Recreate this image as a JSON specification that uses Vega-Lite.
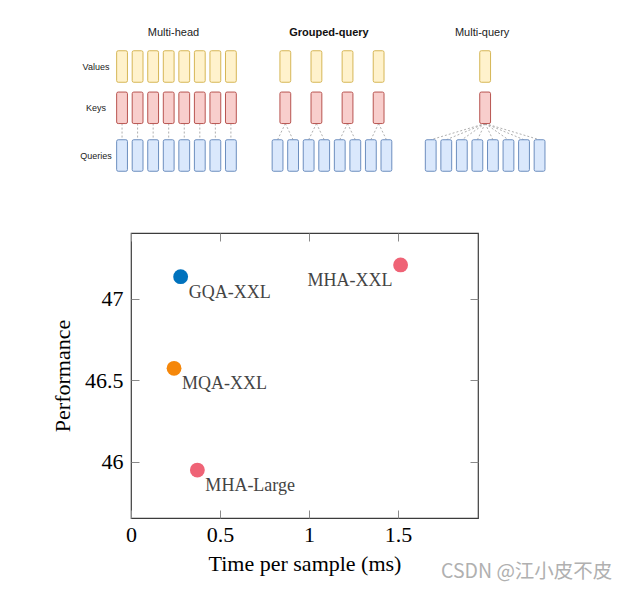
{
  "$schema": "https://vega.github.io/schema/vega-lite/v6.json",
  "background": "white",
  "padding": {"left": 50, "top": 20, "right": 5, "bottom": 5},
  "bounds": "flush",
  "spacing": 43,
  "config": {"font": "Liberation Serif"},
  "datasets": {
    "boxes": [
      {"scheme": "Multi-head", "tier": "Values", "slot": 0},
      {"scheme": "Multi-head", "tier": "Values", "slot": 1},
      {"scheme": "Multi-head", "tier": "Values", "slot": 2},
      {"scheme": "Multi-head", "tier": "Values", "slot": 3},
      {"scheme": "Multi-head", "tier": "Values", "slot": 4},
      {"scheme": "Multi-head", "tier": "Values", "slot": 5},
      {"scheme": "Multi-head", "tier": "Values", "slot": 6},
      {"scheme": "Multi-head", "tier": "Values", "slot": 7},
      {"scheme": "Multi-head", "tier": "Keys", "slot": 0},
      {"scheme": "Multi-head", "tier": "Keys", "slot": 1},
      {"scheme": "Multi-head", "tier": "Keys", "slot": 2},
      {"scheme": "Multi-head", "tier": "Keys", "slot": 3},
      {"scheme": "Multi-head", "tier": "Keys", "slot": 4},
      {"scheme": "Multi-head", "tier": "Keys", "slot": 5},
      {"scheme": "Multi-head", "tier": "Keys", "slot": 6},
      {"scheme": "Multi-head", "tier": "Keys", "slot": 7},
      {"scheme": "Multi-head", "tier": "Queries", "slot": 0},
      {"scheme": "Multi-head", "tier": "Queries", "slot": 1},
      {"scheme": "Multi-head", "tier": "Queries", "slot": 2},
      {"scheme": "Multi-head", "tier": "Queries", "slot": 3},
      {"scheme": "Multi-head", "tier": "Queries", "slot": 4},
      {"scheme": "Multi-head", "tier": "Queries", "slot": 5},
      {"scheme": "Multi-head", "tier": "Queries", "slot": 6},
      {"scheme": "Multi-head", "tier": "Queries", "slot": 7},
      {"scheme": "Grouped-query", "tier": "Values", "slot": 10.5},
      {"scheme": "Grouped-query", "tier": "Values", "slot": 12.5},
      {"scheme": "Grouped-query", "tier": "Values", "slot": 14.5},
      {"scheme": "Grouped-query", "tier": "Values", "slot": 16.5},
      {"scheme": "Grouped-query", "tier": "Keys", "slot": 10.5},
      {"scheme": "Grouped-query", "tier": "Keys", "slot": 12.5},
      {"scheme": "Grouped-query", "tier": "Keys", "slot": 14.5},
      {"scheme": "Grouped-query", "tier": "Keys", "slot": 16.5},
      {"scheme": "Grouped-query", "tier": "Queries", "slot": 10},
      {"scheme": "Grouped-query", "tier": "Queries", "slot": 11},
      {"scheme": "Grouped-query", "tier": "Queries", "slot": 12},
      {"scheme": "Grouped-query", "tier": "Queries", "slot": 13},
      {"scheme": "Grouped-query", "tier": "Queries", "slot": 14},
      {"scheme": "Grouped-query", "tier": "Queries", "slot": 15},
      {"scheme": "Grouped-query", "tier": "Queries", "slot": 16},
      {"scheme": "Grouped-query", "tier": "Queries", "slot": 17},
      {"scheme": "Multi-query", "tier": "Values", "slot": 23.35},
      {"scheme": "Multi-query", "tier": "Keys", "slot": 23.35},
      {"scheme": "Multi-query", "tier": "Queries", "slot": 19.85},
      {"scheme": "Multi-query", "tier": "Queries", "slot": 20.85},
      {"scheme": "Multi-query", "tier": "Queries", "slot": 21.85},
      {"scheme": "Multi-query", "tier": "Queries", "slot": 22.85},
      {"scheme": "Multi-query", "tier": "Queries", "slot": 23.85},
      {"scheme": "Multi-query", "tier": "Queries", "slot": 24.85},
      {"scheme": "Multi-query", "tier": "Queries", "slot": 25.85},
      {"scheme": "Multi-query", "tier": "Queries", "slot": 26.85}
    ],
    "links": [
      {"scheme": "Multi-head", "key_slot": 0, "query_slot": 0},
      {"scheme": "Multi-head", "key_slot": 1, "query_slot": 1},
      {"scheme": "Multi-head", "key_slot": 2, "query_slot": 2},
      {"scheme": "Multi-head", "key_slot": 3, "query_slot": 3},
      {"scheme": "Multi-head", "key_slot": 4, "query_slot": 4},
      {"scheme": "Multi-head", "key_slot": 5, "query_slot": 5},
      {"scheme": "Multi-head", "key_slot": 6, "query_slot": 6},
      {"scheme": "Multi-head", "key_slot": 7, "query_slot": 7},
      {"scheme": "Grouped-query", "key_slot": 10.5, "query_slot": 10},
      {"scheme": "Grouped-query", "key_slot": 10.5, "query_slot": 11},
      {"scheme": "Grouped-query", "key_slot": 12.5, "query_slot": 12},
      {"scheme": "Grouped-query", "key_slot": 12.5, "query_slot": 13},
      {"scheme": "Grouped-query", "key_slot": 14.5, "query_slot": 14},
      {"scheme": "Grouped-query", "key_slot": 14.5, "query_slot": 15},
      {"scheme": "Grouped-query", "key_slot": 16.5, "query_slot": 16},
      {"scheme": "Grouped-query", "key_slot": 16.5, "query_slot": 17},
      {"scheme": "Multi-query", "key_slot": 23.35, "query_slot": 19.85},
      {"scheme": "Multi-query", "key_slot": 23.35, "query_slot": 20.85},
      {"scheme": "Multi-query", "key_slot": 23.35, "query_slot": 21.85},
      {"scheme": "Multi-query", "key_slot": 23.35, "query_slot": 22.85},
      {"scheme": "Multi-query", "key_slot": 23.35, "query_slot": 23.85},
      {"scheme": "Multi-query", "key_slot": 23.35, "query_slot": 24.85},
      {"scheme": "Multi-query", "key_slot": 23.35, "query_slot": 25.85},
      {"scheme": "Multi-query", "key_slot": 23.35, "query_slot": 26.85}
    ],
    "tiers": [
      {"tier": "Values", "level": 0},
      {"tier": "Keys", "level": 1},
      {"tier": "Queries", "level": 2.155}
    ],
    "headers": [
      {"scheme": "Multi-head", "center": 3.5, "highlight": false},
      {"scheme": "Grouped-query", "center": 13.5, "highlight": true},
      {"scheme": "Multi-query", "center": 23.35, "highlight": false}
    ],
    "models": [
      {"model": "GQA-XXL", "attention": "GQA", "time": 0.279, "performance": 47.135},
      {"model": "MHA-XXL", "attention": "MHA", "time": 1.515, "performance": 47.207},
      {"model": "MQA-XXL", "attention": "MQA", "time": 0.242, "performance": 46.573},
      {"model": "MHA-Large", "attention": "MHA", "time": 0.373, "performance": 45.949}
    ],
    "credit": [
      {"text": "CSDN @江小皮不皮"}
    ]
  },
  "vconcat": [
    {
      "width": 430,
      "height": 170,
      "view": {"stroke": null},
      "layer": [
        {
          "data": {"name": "links"},
          "mark": {"type": "rule", "color": "#9a9a9a", "strokeWidth": 0.8, "strokeDash": [2, 2]},
          "encoding": {
            "x": {"field": "key_slot", "type": "quantitative", "scale": {"domain": [0.5756, 28.228], "nice": false, "zero": false}, "axis": null},
            "x2": {"field": "query_slot"},
            "y": {"datum": 1.381, "type": "quantitative", "scale": {"domain": [-1.126, 2.99], "reverse": true, "nice": false, "zero": false}, "axis": null},
            "y2": {"datum": 1.774}
          }
        },
        {
          "data": {"name": "boxes"},
          "transform": [{"lookup": "tier", "from": {"data": {"name": "tiers"}, "key": "tier", "fields": ["level"]}}],
          "mark": {"type": "point", "filled": true, "opacity": 1, "size": 992, "strokeWidth": 1,
            "shape": "M-0.243,-1L0.243,-1Q0.343,-1,0.343,-0.9L0.343,0.9Q0.343,1,0.243,1L-0.243,1Q-0.343,1,-0.343,0.9L-0.343,-0.9Q-0.343,-1,-0.243,-1Z"},
          "encoding": {
            "x": {"field": "slot", "type": "quantitative"},
            "y": {"field": "level", "type": "quantitative"},
            "fill": {"field": "tier", "type": "nominal", "scale": {"domain": ["Values", "Keys", "Queries"], "range": ["#fff2cc", "#f8cecc", "#dae8fc"]}, "legend": null},
            "stroke": {"field": "tier", "type": "nominal", "scale": {"domain": ["Values", "Keys", "Queries"], "range": ["#d6b656", "#b85450", "#6c8ebf"]}, "legend": null}
          }
        },
        {
          "data": {"name": "tiers"},
          "mark": {"type": "text", "font": "Liberation Sans", "fontSize": 9, "color": "#222222", "align": "center", "baseline": "middle"},
          "encoding": {
            "x": {"datum": -1.675, "type": "quantitative"},
            "y": {"field": "level", "type": "quantitative"},
            "text": {"field": "tier"}
          }
        },
        {
          "data": {"name": "headers"},
          "transform": [{"filter": "!datum.highlight"}],
          "mark": {"type": "text", "font": "Liberation Sans", "fontSize": 11, "color": "#222222", "align": "center", "baseline": "middle", "dx": -3},
          "encoding": {
            "x": {"field": "center", "type": "quantitative"},
            "y": {"datum": -0.811, "type": "quantitative"},
            "text": {"field": "scheme"}
          }
        },
        {
          "data": {"name": "headers"},
          "transform": [{"filter": "datum.highlight"}],
          "mark": {"type": "text", "font": "Liberation Sans", "fontSize": 11, "fontWeight": "bold", "color": "#111111", "align": "center", "baseline": "middle", "dx": -3},
          "encoding": {
            "x": {"field": "center", "type": "quantitative"},
            "y": {"datum": -0.811, "type": "quantitative"},
            "text": {"field": "scheme"}
          }
        }
      ]
    },
    {
      "width": 347,
      "height": 285,
      "view": {"stroke": "#3c3c3c", "strokeWidth": 1.2},
      "layer": [
        {
          "data": {"name": "models"},
          "mark": {"type": "circle", "size": 220, "opacity": 1},
          "encoding": {
            "x": {"field": "time", "type": "quantitative", "scale": {"domain": [0, 1.95], "nice": false, "zero": false},
              "axis": {"orient": "bottom", "values": [0, 0.5, 1, 1.5], "format": "~g", "domain": false, "grid": false, "labelFlush": false,
                "tickSize": -8, "tickColor": "#8a8a8a", "tickWidth": 1, "labelFont": "Liberation Serif", "labelFontSize": 22, "labelColor": "#000000", "labelPadding": 14,
                "title": "Time per sample (ms)", "titleFont": "Liberation Serif", "titleFontSize": 22, "titleFontWeight": "normal", "titleColor": "#000000", "titlePadding": 8}},
            "y": {"field": "performance", "type": "quantitative", "scale": {"domain": [45.655, 47.403], "nice": false, "zero": false},
              "axis": {"orient": "left", "values": [46, 46.5, 47], "format": "~g", "domain": false, "grid": false, "labelFlush": false,
                "tickSize": -8, "tickColor": "#8a8a8a", "tickWidth": 1, "labelFont": "Liberation Serif", "labelFontSize": 22, "labelColor": "#000000", "labelPadding": 16,
                "title": "Performance", "titleFont": "Liberation Serif", "titleFontSize": 22, "titleFontWeight": "normal", "titleColor": "#000000", "titlePadding": 10}},
            "color": {"field": "attention", "type": "nominal", "scale": {"domain": ["GQA", "MQA", "MHA"], "range": ["#0072bd", "#f5870a", "#ef6376"]}, "legend": null}
          }
        },
        {
          "data": {"name": "models"},
          "transform": [{"filter": "datum.model !== 'MHA-XXL'"}],
          "mark": {"type": "text", "font": "Liberation Serif", "fontSize": 18, "color": "#444444", "align": "left", "baseline": "alphabetic", "dx": 8, "dy": 21},
          "encoding": {
            "x": {"field": "time", "type": "quantitative",
              "axis": {"orient": "top", "values": [0, 0.5, 1, 1.5], "labels": false, "domain": false, "grid": false, "title": null, "tickSize": -8, "tickColor": "#8a8a8a", "tickWidth": 1}},
            "y": {"field": "performance", "type": "quantitative",
              "axis": {"orient": "right", "values": [46, 46.5, 47], "labels": false, "domain": false, "grid": false, "title": null, "tickSize": -8, "tickColor": "#8a8a8a", "tickWidth": 1}},
            "text": {"field": "model"}
          }
        },
        {
          "data": {"name": "models"},
          "transform": [{"filter": "datum.model === 'MHA-XXL'"}],
          "mark": {"type": "text", "font": "Liberation Serif", "fontSize": 18, "color": "#444444", "align": "right", "baseline": "alphabetic", "dx": -8, "dy": 21},
          "encoding": {
            "x": {"field": "time", "type": "quantitative", "axis": null},
            "y": {"field": "performance", "type": "quantitative", "axis": null},
            "text": {"field": "model"}
          }
        },
        {
          "data": {"name": "credit"},
          "mark": {"type": "text", "font": "Noto Sans CJK SC", "fontSize": 19.5, "color": "#b0b0b0", "align": "left", "baseline": "middle"},
          "encoding": {
            "x": {"datum": 1.742, "type": "quantitative", "axis": null},
            "y": {"datum": 45.324, "type": "quantitative", "axis": null},
            "text": {"field": "text"}
          }
        }
      ]
    }
  ]
}
